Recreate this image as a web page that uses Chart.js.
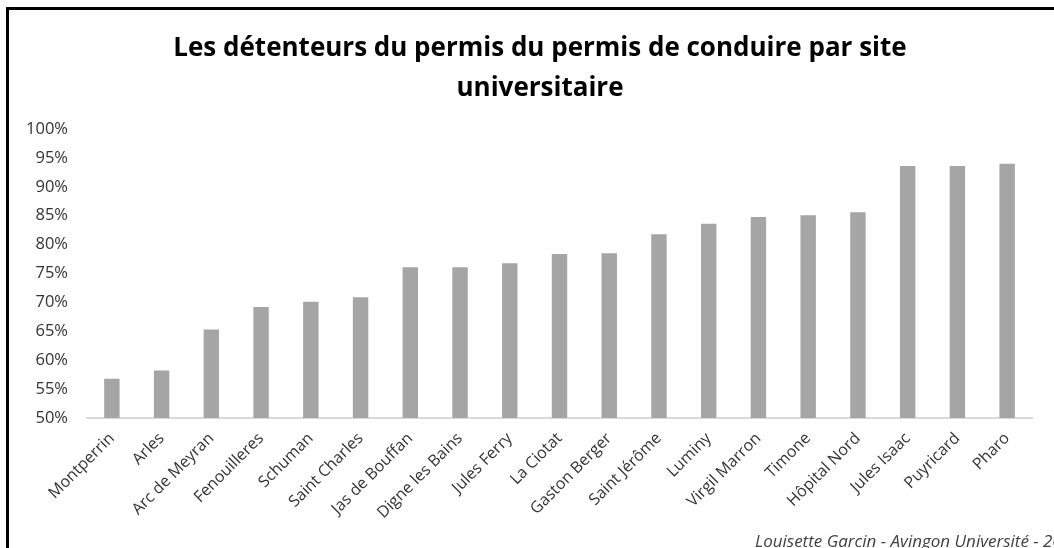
<!DOCTYPE html>
<html>
<head>
<meta charset="utf-8">
<script src="https://cdn.jsdelivr.net/npm/chart.js@4"></script>
<style>
  html, body { margin: 0; padding: 0; background: #fff; overflow: hidden; }
  #wrap { position: relative; width: 1054px; height: 548px; overflow: hidden; }
  #frame { position: absolute; left: 6px; top: 7px; width: 1060px; height: 560px;
           border-left: 3px solid #000; border-top: 3px solid #000; box-sizing: border-box; }
  #note { position: absolute; left: 755px; top: 529px; white-space: nowrap;
          font: italic 17px "Open Sans", sans-serif; color: #404040; }
  canvas { position: absolute; left: 0; top: 0; }
</style>
</head>
<body>
<div id="wrap">
  <div id="frame"></div>
  <canvas id="permisChart" width="1060" height="548"></canvas>
  <div id="note">Louisette Garcin - Avingon Université - 2018</div>
</div>
<script>
const sites = ['Montperrin', 'Arles', 'Arc de Meyran', 'Fenouilleres', 'Schuman', 'Saint Charles',
    'Jas de Bouffan', 'Digne les Bains', 'Jules Ferry', 'La Ciotat', 'Gaston Berger', 'Saint Jérôme',
    'Luminy', 'Virgil Marron', 'Timone', 'Hôpital Nord', 'Jules Isaac', 'Puyricard', 'Pharo'];
const permisPct = [56.8, 58.2, 65.3, 69.2, 70.1, 70.9, 76.1, 76.1, 76.8, 78.4,
    78.5, 81.8, 83.6, 84.8, 85.1, 85.6, 93.6, 93.6, 94.0];
const titleLines = ['Les détenteurs du permis du permis de conduire par site', 'universitaire'];

document.addEventListener('DOMContentLoaded', function () {
    const ctx = document.getElementById('permisChart').getContext('2d');

    new Chart(ctx, {
        type: 'bar',
        data: {
            labels: sites,
            datasets: [{
                data: permisPct,
                backgroundColor: '#a5a5a5',
                borderWidth: 0,
                categoryPercentage: 1,
                barPercentage: 0.31
            }]
        },
        options: {
            responsive: false,
            animation: false,
            layout: { padding: { left: 20, right: 0, top: 29, bottom: 0 } },
            plugins: {
                legend: { display: false },
                tooltip: { enabled: false },
                title: {
                    display: true,
                    text: titleLines,
                    color: '#000',
                    font: { family: 'Open Sans', size: 26, weight: 'bold', lineHeight: 1.54 },
                    padding: { top: 0, bottom: 20 }
                }
            },
            scales: {
                y: {
                    min: 50,
                    max: 100,
                    grid: { display: false },
                    border: { display: false },
                    ticks: {
                        stepSize: 5,
                        padding: 11,
                        color: '#333',
                        font: { family: 'Open Sans', size: 16.5 },
                        callback: v => v + '%'
                    },
                    afterFit: s => { s.width = 67; }
                },
                // empty spacer on the right so the title centres like the original
                spacer: {
                    position: 'right',
                    grid: { display: false },
                    border: { display: false },
                    ticks: { display: false },
                    afterFit: s => { s.width = 28; }
                },
                x: {
                    grid: { display: false },
                    border: { color: '#d9d9d9', width: 2 },
                    ticks: {
                        minRotation: 45,
                        maxRotation: 45,
                        autoSkip: false,
                        color: '#333',
                        font: { family: 'Open Sans', size: 16 }
                    },
                    afterFit: s => { s.height = 130; }
                }
            }
        }
    });
});
</script>
</body>
</html>
